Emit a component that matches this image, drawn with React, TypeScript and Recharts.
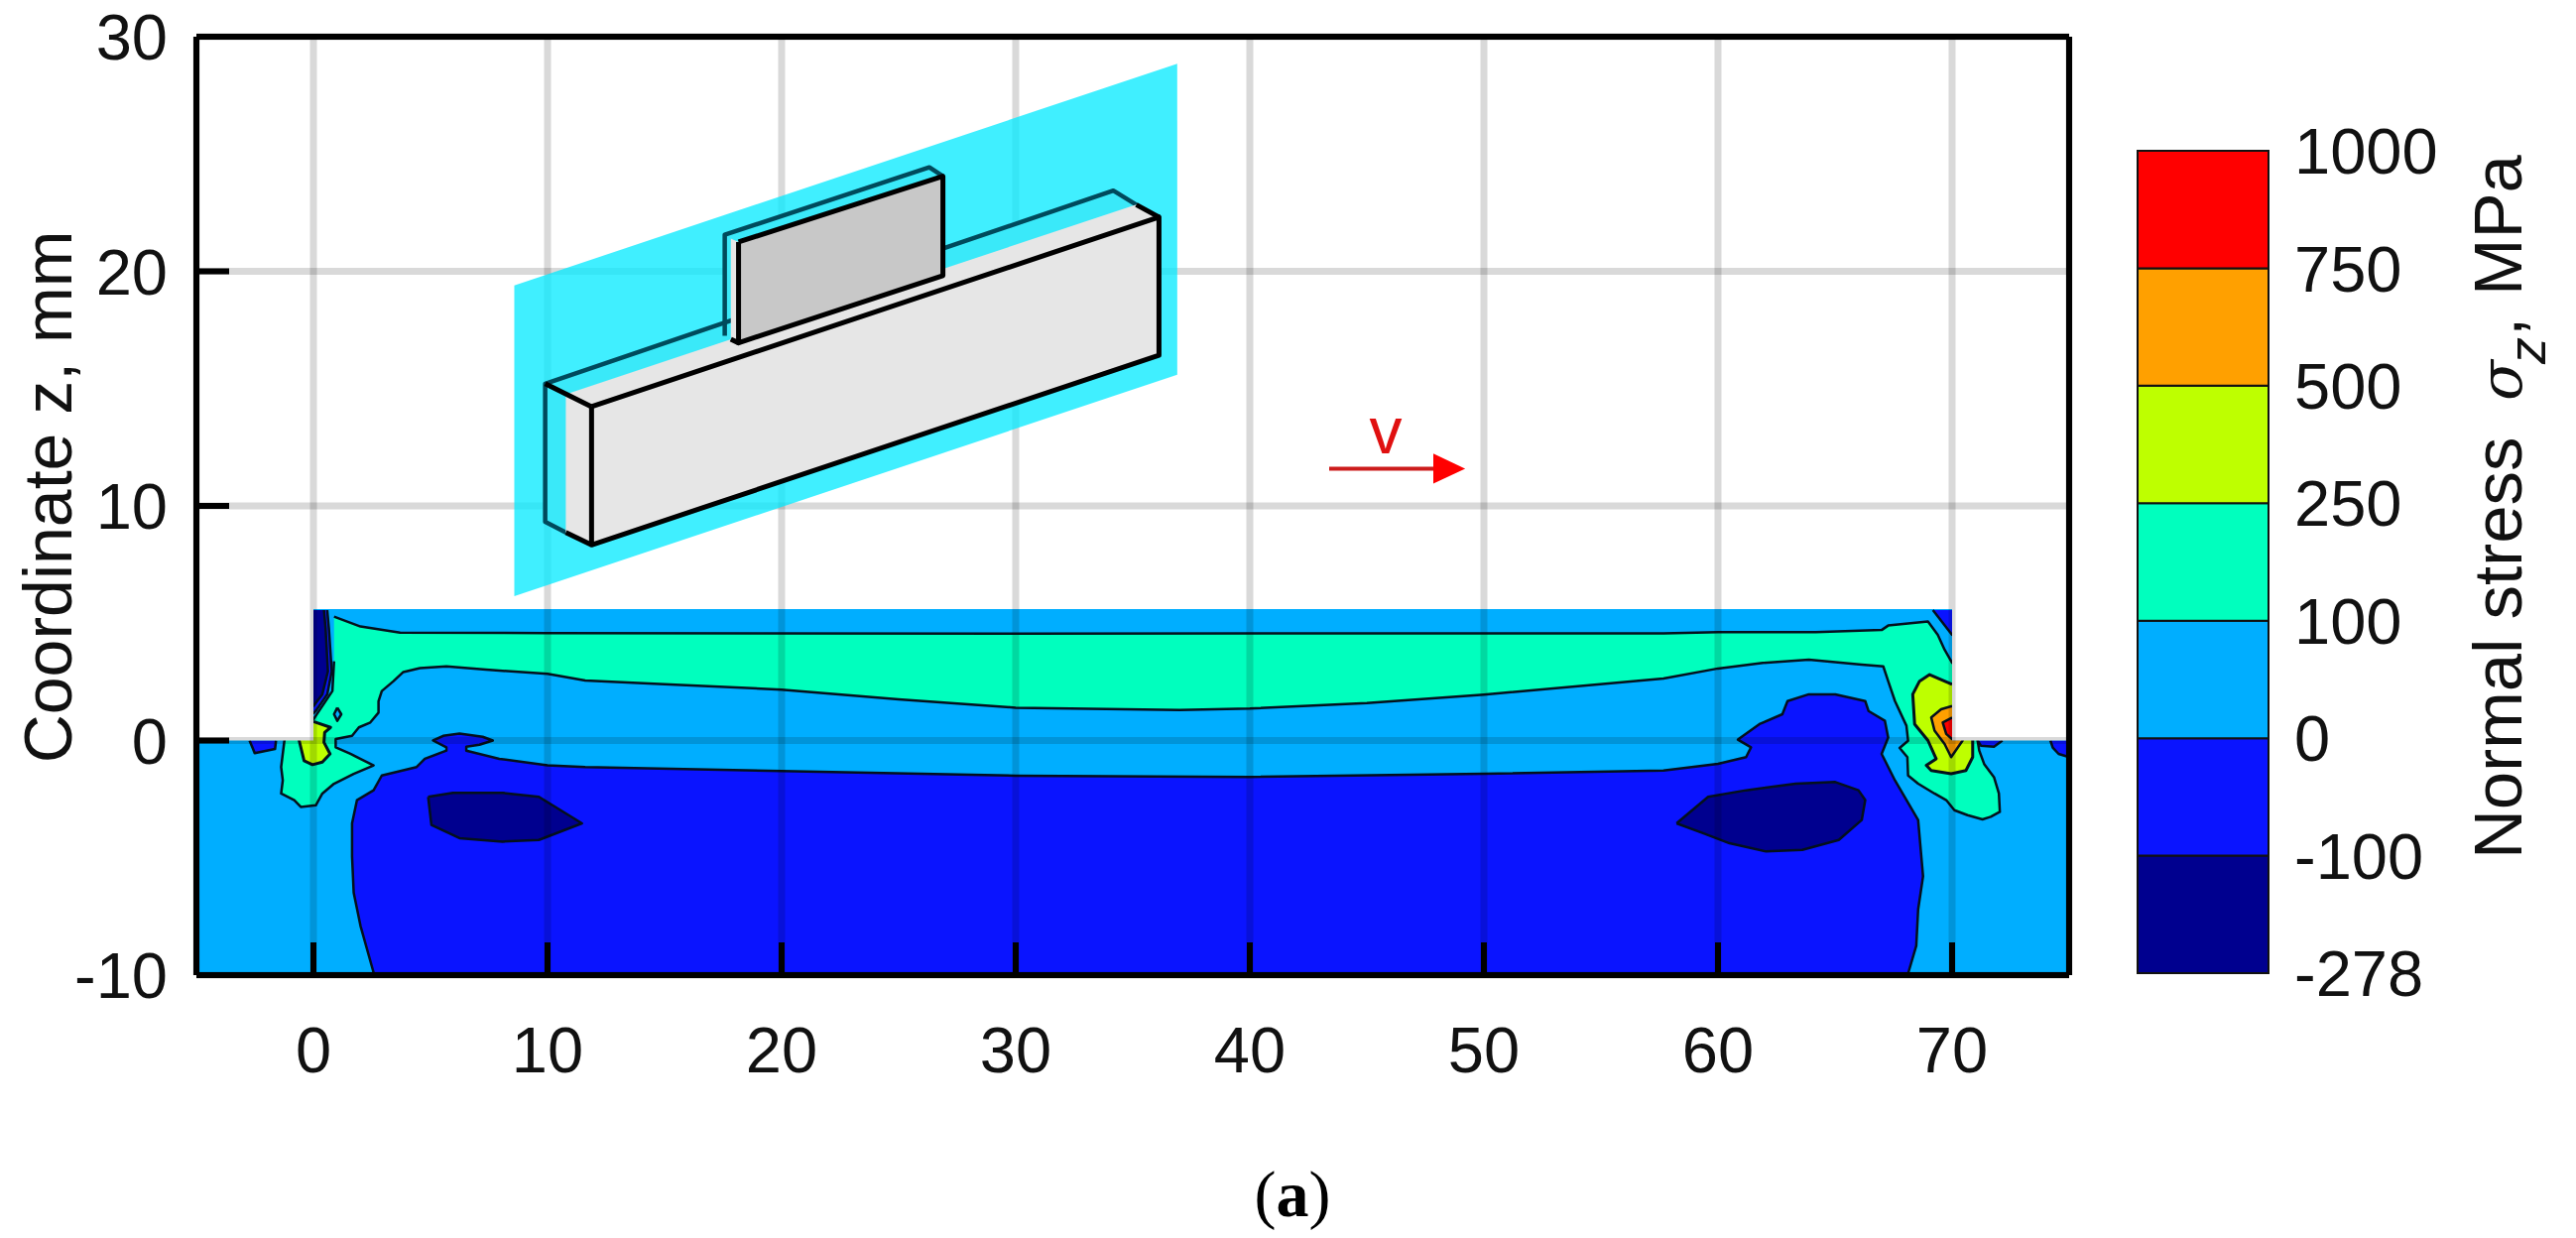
import { ScatterChart, Scatter, BarChart, Bar, XAxis, YAxis, CartesianGrid } from "recharts";

const W = 2597;
const H = 1248;
const FONT = "'Liberation Sans', Arial, sans-serif";

type Pair = [number, number];

const xTicks = [0, 10, 20, 30, 40, 50, 60, 70];
const yTicks = [-10, 0, 10, 20, 30];

// contour bands (x, z in mm)
const plate: Pair[] = [[-5, -10], [75, -10], [75, 5.6], [-5, 5.6]];
const cornerLeft: Pair[] = [[-5, 0], [0, 0], [0, 30], [-5, 30]];
const cornerRight: Pair[] = [[70, 0], [75, 0], [75, 30], [70, 30]];

const band100to250: Pair[] = [
  [0.88, 5.28], [2.01, 4.86], [3.7, 4.6], [10, 4.58], [30, 4.56], [57.67, 4.57], [60, 4.62], [64.17, 4.62],
  [66.99, 4.71], [67.27, 4.9], [68.97, 5.07], [69.39, 4.5], [69.68, 3.87], [70, 3.31], [71, 3.31], [71.09, 0],
  [71.16, -0.43], [71.37, -1], [71.79, -1.56], [72, -2.26], [72.04, -3.04], [71.65, -3.25], [71.3, -3.36],
  [70.66, -3.18], [70.1, -2.97], [69.75, -2.54], [69.25, -2.26], [68.55, -1.84], [68.12, -1.49], [68.09, -0.71],
  [67.76, -0.32], [68.12, -0.01], [68.05, 0.63], [67.56, 1.68], [67.27, 2.53], [67.06, 3.16], [66.14, 3.23],
  [63.88, 3.45], [61.91, 3.31], [60, 3.07], [57.67, 2.64], [50, 1.96], [45, 1.6], [40, 1.36], [37, 1.3], [30, 1.4],
  [25, 1.75], [20, 2.17], [15, 2.4], [11.61, 2.56], [10, 2.84], [7.37, 3.02], [5.68, 3.16], [4.55, 3.09], [3.84, 2.92],
  [3.42, 2.53], [2.92, 2.11], [2.78, 1.68], [2.78, 1.19], [2.43, 0.77], [1.94, 0.56], [1.65, 0.2], [0.95, 0.06],
  [0.95, -0.29], [1.58, -0.57], [2.57, -1.06], [1.72, -1.42], [0.88, -1.84], [0.38, -2.26], [0.1, -2.76],
  [-0.54, -2.83], [-0.82, -2.54], [-1.38, -2.26], [-1.31, -1.7], [-1.38, -1.13], [-1.24, 0], [-1, 0.9], [0, 0.9],
  [0.1, 1.05], [0.81, 2.11], [0.88, 3.38],
];

const bandNeg100to0: Pair[] = [
  [2.6, -10], [2.01, -7.9], [1.72, -6.49], [1.65, -4.94], [1.65, -3.53], [1.86, -2.54], [2.57, -2.12], [2.92, -1.49],
  [4.41, -1.13], [4.76, -0.78], [5.68, -0.43], [5.68, -0.29], [5.11, 0], [5.54, 0.2], [6.24, 0.3], [7.23, 0.16],
  [7.66, 0], [7.09, -0.18], [6.53, -0.26], [6.53, -0.43], [7.94, -0.78], [10, -1.06], [11.61, -1.13], [20, -1.3],
  [30, -1.5], [40, -1.55], [50, -1.42], [57.67, -1.28], [60, -0.99], [61.2, -0.71], [61.41, -0.29], [60.85, 0.04],
  [61.77, 0.7], [62.75, 1.12], [62.97, 1.68], [63.88, 1.97], [65.01, 1.97], [66.29, 1.68], [66.43, 1.26], [67.13, 0.84],
  [67.27, 0.13], [66.99, -0.57], [67.56, -1.7], [68.55, -3.39], [68.76, -5.79], [68.55, -7.2], [68.47, -8.75], [68.1, -10],
];
const edgeLeftBlue: Pair[] = [[0.59, 5.56], [0.66, 4.78], [0.78, 2.95], [0.59, 1.97], [0.1, 1.26], [0, 1.16], [-1, 1.16], [-1, 5.56]];
const edgeRightBlue: Pair[] = [[69.18, 5.56], [70, 4.5], [71, 4.5], [71, 5.56]];
const patchLeft: Pair[] = [[-2.73, 0], [-2.58, -0.36], [-2.51, -0.54], [-1.64, -0.36], [-1.6, 0]];
const patchRight: Pair[] = [[72.15, 0], [71.79, -0.26], [71.23, -0.22], [71.09, 0]];
const patchCorner: Pair[] = [[74.2, 0], [74.3, -0.3], [74.55, -0.57], [75, -0.71], [75, 0]];

const edgeLeftDark: Pair[] = [[0.45, 5.56], [0.52, 4.78], [0.62, 2.95], [0.38, 1.97], [0, 1.47], [-1, 1.47], [-1, 5.56]];
const lensLeft: Pair[] = [
  [4.9, -2.4], [5.96, -2.23], [8.08, -2.23], [9.63, -2.4], [11.47, -3.53], [9.63, -4.24], [8.08, -4.31], [6.24, -4.16], [5.04, -3.6], [4.9, -2.4],
];
const lensRight: Pair[] = [
  [58.23, -3.53], [59.58, -2.4], [61.2, -2.12], [63.32, -1.84], [65.01, -1.77], [66, -2.12], [66.29, -2.54], [66.14, -3.39],
  [65.16, -4.24], [63.6, -4.66], [62.05, -4.73], [60.49, -4.38], [59.36, -3.95], [58.23, -3.53],
];
const dotLeft: Pair[] = [[1.02, 1.4], [1.19, 1.12], [1.02, 0.84], [0.88, 1.12], [1.02, 1.4]];

const hotLeft: Pair[] = [
  [0, 0.81], [0.73, 0.56], [0.48, 0.34], [0.45, -0.08], [0.71, -0.57], [0.38, -0.92], [-0.04, -1.03], [-0.4, -0.86], [-0.61, 0], [-0.61, 0.81],
];
const hotRight: Pair[] = [
  [70, 2.39], [69.53, 2.6], [69.04, 2.81], [68.61, 2.53], [68.32, 1.97], [68.4, 0.7], [68.97, 0], [69.32, -0.78], [68.9, -1.06],
  [69.11, -1.28], [69.96, -1.42], [70.59, -1.28], [70.88, -0.71], [70.88, 0], [70.88, 2.39],
];
const orangeRight: Pair[] = [[70, 1.47], [69.53, 1.33], [69.11, 0.98], [69.25, 0.42], [69.68, -0.15], [69.96, -0.71], [70.45, 0], [70.45, 1.47]];
const redRight: Pair[] = [[70, 0.98], [69.6, 0.77], [69.75, 0.28], [70, 0.06], [70.3, 0.06], [70.3, 0.98]];

// sketch of the welded specimen
const planeInset: Pair[] = [[8.58, 19.4], [36.9, 28.85], [36.9, 15.59], [8.58, 6.15]];
const boxBack: Pair[] = [[9.9, 15.21], [34.17, 23.44], [36.12, 22.31], [36.12, 16.42], [11.88, 8.34], [9.9, 9.32]];
const boxBackEdge: Pair[] = [[10.78, 8.87], [9.9, 9.32], [9.9, 15.21], [34.17, 23.44], [35.15, 22.84]];
const boxTop: Pair[] = [[10.78, 14.76], [35.15, 22.84], [36.12, 22.31], [11.88, 14.23]];
const boxSide: Pair[] = [[10.78, 14.76], [11.88, 14.23], [11.88, 8.34], [10.78, 8.87]];
const boxFront: Pair[] = [[11.88, 14.23], [36.12, 22.31], [36.12, 16.42], [11.88, 8.34], [11.88, 14.23]];
const boxEdgeA: Pair[] = [[9.9, 15.21], [11.88, 14.23]];
const boxEdgeB: Pair[] = [[10.78, 8.87], [11.88, 8.34]];
const boxEdgeC: Pair[] = [[35.15, 22.84], [36.12, 22.31]];
const stemBack: Pair[] = [[17.57, 17.25], [17.57, 21.56], [26.31, 24.43], [26.89, 24.05], [26.89, 19.82], [18.16, 16.95]];
const stemBackEdge: Pair[] = [[17.57, 17.25], [17.57, 21.56], [26.31, 24.43], [26.89, 24.05]];
const stemSide: Pair[] = [[17.83, 21.4], [18.16, 21.25], [18.16, 16.95], [17.83, 17.1]];
const stemFront: Pair[] = [[18.16, 21.25], [26.89, 24.05], [26.89, 19.82], [18.16, 16.95], [18.16, 21.25]];
const stemEdge: Pair[] = [[17.83, 17.1], [18.16, 16.95]];
const arrowShaft: Pair[] = [[43.39, 11.59], [47.84, 11.59]];
const arrowHead: Pair[] = [[47.84, 12.23], [49.2, 11.59], [47.84, 10.95]];

// colour bar
const barNames = ["b278", "b100", "b0", "b100p", "b250", "b500", "b750"];
const barColors = ["#00008f", "#0a14ff", "#00aeff", "#00ffbe", "#beff00", "#ffa000", "#ff0000"];
const barTicks = [0, 1, 2, 3, 4, 5, 6, 7];
const barLabels = ["-278", "-100", "0", "100", "250", "500", "750", "1000"];
const barRow = [{ name: "levels", ...Object.fromEntries(barNames.map((n) => [n, 1])) }];

const noDot = () => <g />;
const pts = (p: Pair[]) => p.map(([x, y]) => ({ x, y }));

function poly(key: string, p: Pair[], fill: string, stroke = "none", strokeWidth = 2.5, fillOpacity = 1) {
  return (
    <Scatter
      key={key}
      data={pts(p)}
      shape={noDot}
      isAnimationActive={false}
      line={{ fill, stroke, strokeWidth, fillOpacity, strokeLinejoin: "round" }}
    />
  );
}

const axisLine = { stroke: "#000", strokeWidth: 6 };
const tickLine = { stroke: "#000", strokeWidth: 6 };
const tickFont = { fontFamily: FONT, fontSize: 65, fill: "#111" };
const layer = { position: "absolute", left: 0, top: 0 } as const;
const INK = "#04101c";
const TEAL = "#004a5c";

export default function App() {
  return (
    <div style={{ position: "absolute", left: 0, top: 0, width: W, height: H, background: "#fff" }}>
      {/* contours */}
      <div style={layer}>
        <ScatterChart width={W} height={H} margin={{ left: 198, top: 37, right: 511, bottom: 265 }}>
          <XAxis hide type="number" dataKey="x" domain={[-5, 75]} />
          <YAxis hide type="number" dataKey="y" domain={[-10, 30]} />
          {poly("plate", plate, "#00aeff")}
          {poly("green", band100to250, "#00ffbe", INK)}
          {poly("dot", dotLeft, "#00aeff", INK, 2.5)}
          {poly("blue", bandNeg100to0, "#0a14ff", INK)}
          {poly("edgeL", edgeLeftBlue, "#0a14ff", INK)}
          {poly("edgeR", edgeRightBlue, "#0a14ff", INK)}
          {poly("patchL", patchLeft, "#0a14ff", INK)}
          {poly("patchR", patchRight, "#0a14ff", INK)}
          {poly("patchC", patchCorner, "#0a14ff", INK)}
          {poly("edgeDark", edgeLeftDark, "#00008f", INK)}
          {poly("lensL", lensLeft, "#00008f", INK)}
          {poly("lensR", lensRight, "#00008f", INK)}
          {poly("hotL", hotLeft, "#beff00", INK, 3)}
          {poly("hotR", hotRight, "#beff00", INK, 3)}
          {poly("orange", orangeRight, "#ffa000", INK)}
          {poly("red", redRight, "#ff0000", INK)}
          {poly("cornerL", cornerLeft, "#fff")}
          {poly("cornerR", cornerRight, "#fff")}
        </ScatterChart>
      </div>

      {/* grid, frame, sketch and labels */}
      <div style={layer}>
        <ScatterChart width={W} height={H} margin={{ left: 0, top: 36, right: 510, bottom: 165 }}>
          <CartesianGrid stroke="#000" strokeOpacity={0.15} strokeWidth={7} />
          <XAxis
            type="number"
            dataKey="x"
            domain={[-5, 75]}
            ticks={xTicks}
            height={100}
            interval={0}
            tickSize={-33}
            tickMargin={85}
            axisLine={axisLine}
            tickLine={tickLine}
            tick={tickFont}
          />
          <XAxis
            xAxisId="top"
            orientation="top"
            type="number"
            dataKey="x"
            domain={[-5, 75]}
            ticks={xTicks}
            height={1}
            interval={0}
            tickSize={-33}
            axisLine={axisLine}
            tickLine={tickLine}
            tick={false}
          />
          <YAxis
            type="number"
            dataKey="y"
            domain={[-10, 30]}
            ticks={yTicks}
            width={198}
            interval={0}
            tickSize={-33}
            tickMargin={62}
            axisLine={axisLine}
            tickLine={tickLine}
            tick={tickFont}
          />
          <YAxis
            yAxisId="right"
            orientation="right"
            type="number"
            dataKey="y"
            domain={[-10, 30]}
            ticks={yTicks}
            width={1}
            interval={0}
            tickSize={-33}
            axisLine={axisLine}
            tickLine={tickLine}
            tick={false}
          />
          {poly("boxBack", boxBack, "#e6e6e6")}
          {poly("stemBack", stemBack, "#e6e6e6")}
          {poly("plane", planeInset, "#00eaff", "none", 0, 0.75)}
          {poly("boxBackEdge", boxBackEdge, "none", TEAL, 4.5)}
          {poly("stemBackEdge", stemBackEdge, "none", TEAL, 4.5)}
          {poly("boxTop", boxTop, "#e6e6e6")}
          {poly("boxSide", boxSide, "#e6e6e6")}
          {poly("boxFront", boxFront, "#e6e6e6", "#000", 5)}
          {poly("boxEdgeA", boxEdgeA, "none", "#000", 5)}
          {poly("boxEdgeB", boxEdgeB, "none", "#000", 5)}
          {poly("boxEdgeC", boxEdgeC, "none", "#000", 5)}
          {poly("stemSide", stemSide, "#e6e6e6")}
          {poly("stemFront", stemFront, "#c8c8c8", "#000", 5)}
          {poly("stemEdge", stemEdge, "none", "#000", 5)}
          {poly("arrowShaft", arrowShaft, "none", "#cc1c1c", 4)}
          {poly("arrowHead", arrowHead, "#ff0000")}
          <text x={1397} y={457} textAnchor="middle" fontFamily={FONT} fontSize={66} fill="#e01010">v</text>
          <text
            transform="translate(48 501) rotate(-90)"
            textAnchor="middle"
            dominantBaseline="central"
            fontFamily={FONT}
            fontSize={68}
            fill="#111"
          >
            Coordinate z, mm
          </text>
          <text x={1303} y={1226} textAnchor="middle" fontFamily="'Liberation Serif', serif" fontSize={66} fill="#000">
            (<tspan fontWeight="bold">a</tspan>)
          </text>
        </ScatterChart>
      </div>

      {/* colour bar */}
      <div style={layer}>
        <BarChart width={W} height={H} data={barRow} barCategoryGap={0} margin={{ left: 2155, top: 152, right: 0, bottom: 267 }}>
          <XAxis hide dataKey="name" />
          <YAxis
            orientation="right"
            type="number"
            domain={[0, 7]}
            ticks={barTicks}
            width={310}
            interval={0}
            tickSize={0}
            tickMargin={26}
            axisLine={false}
            tickFormatter={(v: number) => barLabels[v]}
            tick={tickFont}
          />
          {barNames.map((n, i) => (
            <Bar key={n} dataKey={n} stackId="cb" fill={barColors[i]} stroke="#111" strokeWidth={2} isAnimationActive={false} />
          ))}
          <text transform="translate(2542 866) rotate(-90)" fontFamily={FONT} fontSize={69} fill="#111">
            <tspan x={0}>Normal stress</tspan>
            <tspan x={462} fontFamily="'DejaVu Serif', serif" fontStyle="italic" fontSize={60}>σ</tspan>
            <tspan x={499} dy={24} fontSize={54} fontStyle="italic">z</tspan>
            <tspan x={527} dy={-24}>,</tspan>
            <tspan x={568}>MPa</tspan>
          </text>
        </BarChart>
      </div>
    </div>
  );
}
